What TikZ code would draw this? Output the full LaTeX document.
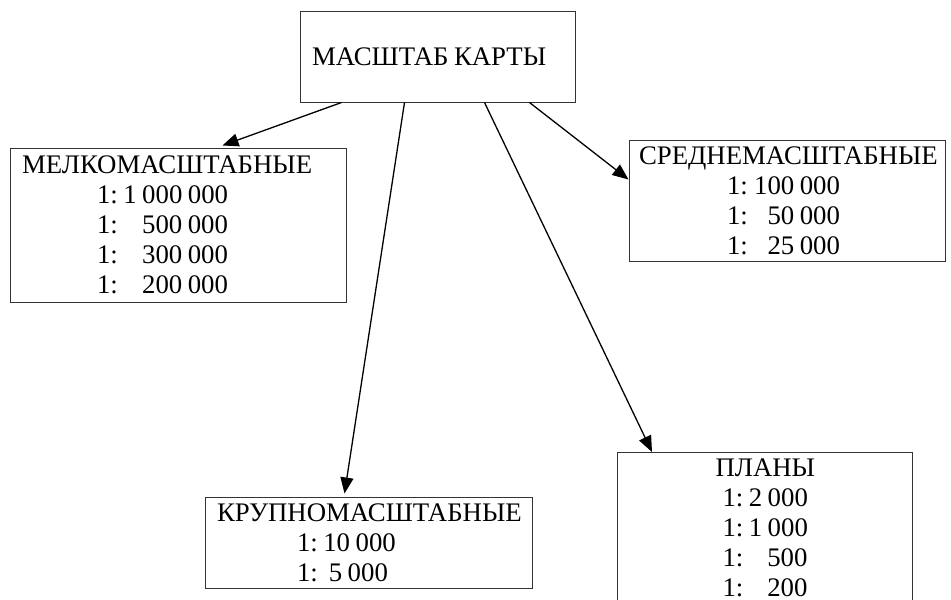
\documentclass[tikz,border=0pt]{standalone}
\usepackage{fontspec}
\setmainfont{Liberation Serif}
\usetikzlibrary{arrows.meta}
\newcommand{\boxfont}{\fontsize{26.8}{30}\selectfont}
\newcommand{\gap}{\kern5.5pt}
\tikzstyle{box} = [rectangle, draw=black!80, line width=1pt, inner sep=0pt, align=left, font=\boxfont]
\tikzstyle{arrow} = [line width=1.3pt, -{Triangle[length=16pt,width=13pt]}]
\newcommand{\scaleline}[3]{\hspace*{#1}\makebox[#2][l]{1:\gap\hfill #3}}

\begin{document}
\begin{tikzpicture}[x=1pt,y=-1pt]
        \useasboundingbox (0,0) rectangle (951,600);
        % Top ------------------------------------------------------------------------------------
        \node[box, text width=275pt, minimum height=91pt](karta) at (437.5,56.5){\hspace*{12pt}МАСШТАБ\gap КАРТЫ};
        % Small and medium -----------------------------------------------------------------------
        \node[box, text width=336pt, minimum height=154pt](melko) at (178,225){%
            \hspace*{12pt}МЕЛКОМАСШТАБНЫЕ\\
            \scaleline{87pt}{131pt}{1\gap 000\gap 000}\\
            \scaleline{87pt}{131pt}{500\gap 000}\\
            \scaleline{87pt}{131pt}{300\gap 000}\\
            \scaleline{87pt}{131pt}{200\gap 000}};
        \node[box, text width=316pt, minimum height=121pt](sredne) at (787,200.5){%
            \hspace*{10pt}СРЕДНЕМАСШТАБНЫЕ\\
            \scaleline{98pt}{113pt}{100\gap 000}\\
            \scaleline{98pt}{113pt}{50\gap 000}\\
            \scaleline{98pt}{113pt}{25\gap 000}};
        % Large and plans ------------------------------------------------------------------------
        \node[box, text width=327pt, minimum height=91pt](krupno) at (368.5,542.5){%
            \hspace*{12pt}КРУПНОМАСШТАБНЫЕ\\
            \hspace*{92pt}1:\gap 10\gap 000\\
            \hspace*{92pt}1:\gap\gap 5\gap 000};
        \node[box, text width=295pt, minimum height=150pt, anchor=north west](plany) at (617,452){%
            \hspace*{98pt}ПЛАНЫ\\
            \scaleline{105pt}{85pt}{2\gap 000}\\
            \scaleline{105pt}{85pt}{1\gap 000}\\
            \scaleline{105pt}{85pt}{500}\\
            \scaleline{105pt}{85pt}{200}};
        % Arrows ---------------------------------------------------------------------------------
        \draw[arrow] ([xshift=42pt]karta.south west) -- ([xshift=213pt,yshift=2pt]melko.north west);
        \draw[arrow] ([xshift=105pt]karta.south west) -- ([xshift=140pt,yshift=3pt]krupno.north west);
        \draw[arrow] ([xshift=185pt]karta.south west) -- ([xshift=35pt]plany.north west);
        \draw[arrow] ([xshift=230pt]karta.south west) -- ([yshift=-40pt]sredne.north west);
    \end{tikzpicture}
\end{document}
